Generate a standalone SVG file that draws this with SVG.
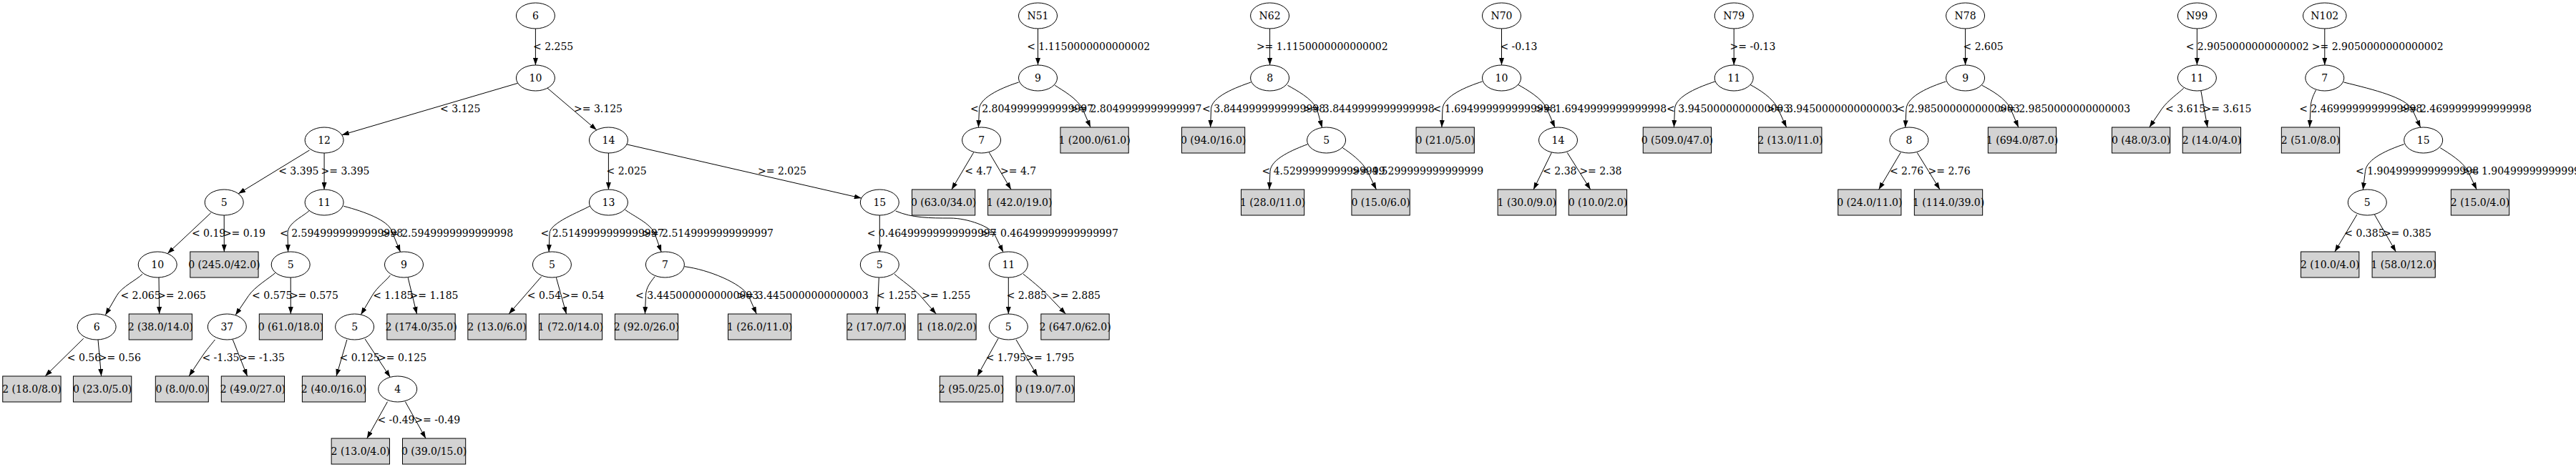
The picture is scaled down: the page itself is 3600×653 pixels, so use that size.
<svg xmlns="http://www.w3.org/2000/svg" width="3600" height="653" viewBox="0 0 3600 653">
<defs>
<style>
.e{fill:#fff;stroke:#000;stroke-width:1}
.b{fill:#d3d3d3;stroke:#000;stroke-width:1}
text{font-family:"DejaVu Serif","Liberation Serif",serif;font-size:14px;fill:#000}
.nt{text-anchor:middle}
.c{fill:none;stroke:#000;stroke-width:1;marker-end:url(#ah)}
</style>
<marker id="ah" viewBox="0 0 10 7" refX="10" refY="3.5" markerWidth="10" markerHeight="7" markerUnits="userSpaceOnUse" orient="auto"><path d="M0,0L10,3.5L0,7z" fill="#000"/></marker>
</defs>
<rect x="0" y="0" width="3600" height="653" fill="#fff"/>
<g id="connectors">
<path class="c" d="M748.4,40L748.4,91"/>
<path class="c" d="M723.7,116.3L477.8,188.7"/>
<path class="c" d="M765,123.2L833.8,181.8"/>
<path class="c" d="M432.5,210L333.1,270.8"/>
<path class="c" d="M453.1,214L453.1,265"/>
<path class="c" d="M850.4,214L850.4,265"/>
<path class="c" d="M875.9,201.9L1203.8,277.1"/>
<path class="c" d="M294.7,297.7L234.2,354.5"/>
<path class="c" d="M313.2,301L313.3,352"/>
<path class="c" d="M432.4,294.3C424,302.7 401.7,311.5 402,326.5L402.6,352.2"/>
<path class="c" d="M480.3,288.3C510,296 541.3,308.1 547,322L559.5,352.3"/>
<path class="c" d="M823.9,288.3C811.2,295.8 768,311.5 768,326.5L767.1,352.2"/>
<path class="c" d="M873.6,293.3C885.6,302.3 909.5,312.7 915,326.7L924.2,352.3"/>
<path class="c" d="M1229.3,301L1229.3,352"/>
<path class="c" d="M1251.7,295C1275,305 1300,305 1328,305C1352,305 1384.5,317 1390,328L1402,352.5"/>
<path class="c" d="M199,383.3C190.6,391.7 170.5,400.6 163,413.5L147.3,440.5"/>
<path class="c" d="M222,388L222.7,439"/>
<path class="c" d="M384.6,381.7C377.1,388.3 355.8,401.1 347.4,413.5L329.1,440.6"/>
<path class="c" d="M406.2,388L406.3,439"/>
<path class="c" d="M545.3,385C539.3,393 527.6,400.6 520,413.5L504.4,440"/>
<path class="c" d="M570.2,388.3L582.5,439"/>
<path class="c" d="M116.7,473.3L63.1,526"/>
<path class="c" d="M137,475L141.6,526"/>
<path class="c" d="M300.4,475C295.6,481.4 289.3,488 281,500.5L264.1,526"/>
<path class="c" d="M325.3,475L345.6,526"/>
<path class="c" d="M484.9,475L470,526"/>
<path class="c" d="M510.1,474L545.3,527.4"/>
<path class="c" d="M541.5,561.7L512.8,613"/>
<path class="c" d="M566.4,561.7L595,613"/>
<path class="c" d="M756.7,386.7L711.1,439"/>
<path class="c" d="M777.4,388.3L791.5,439"/>
<path class="c" d="M915.1,386.7C910.3,393.1 902.5,401.5 902.5,413.5L901.4,439"/>
<path class="c" d="M956.6,372.7C990,377 1036,396 1046,413.5L1057.3,439"/>
<path class="c" d="M1228.3,388.3L1226,439"/>
<path class="c" d="M1250,383.3C1257.5,389.9 1278.1,404.5 1286,413.5L1308.3,439"/>
<path class="c" d="M1409.3,388L1409.3,439"/>
<path class="c" d="M1430,383.3C1438,389.3 1456.7,404.9 1465,413.5L1489.3,439"/>
<path class="c" d="M1395,473.3L1365.7,526"/>
<path class="c" d="M1420,475L1450,526"/>
<path class="c" d="M1450.5,40L1450.5,91"/>
<path class="c" d="M1423.7,115C1405,121 1369,135 1368.5,152.5L1367.4,178.2"/>
<path class="c" d="M1474.2,119.3C1485,126.5 1505,137 1513,152.5L1524,178"/>
<path class="c" d="M1360.6,213.3L1329.9,265"/>
<path class="c" d="M1382.4,213.3L1413,265"/>
<path class="c" d="M1774.6,40L1774.6,91"/>
<path class="c" d="M1748.2,115C1728,122 1693,135 1692.5,152.5L1691.6,178"/>
<path class="c" d="M1799.5,119.3C1811,126 1833,137 1840.5,152.5L1847.7,178.4"/>
<path class="c" d="M1827.4,201.7C1808,209 1776,222 1775,239.5L1773.9,265"/>
<path class="c" d="M1876.4,206.7C1886,213 1904,226 1911,239.5L1923.4,265"/>
<path class="c" d="M2098.5,40L2098.5,91"/>
<path class="c" d="M2071.5,114C2050,121 2017,134 2016,152.5L2014.9,178"/>
<path class="c" d="M2121.3,118.3C2133,125 2155,137 2162,152.5L2173,178.3"/>
<path class="c" d="M2168.4,213.3L2143.1,265"/>
<path class="c" d="M2190.2,213.3L2222.7,265"/>
<path class="c" d="M2423.2,40L2423.2,91"/>
<path class="c" d="M2396.8,114C2376,121 2341,134 2340.5,152.5L2339.4,178"/>
<path class="c" d="M2445.7,118.3C2458,125 2478,137 2485,152.5L2496.6,178"/>
<path class="c" d="M2746.6,40L2746.6,91"/>
<path class="c" d="M2719.4,114C2698,121 2665,134 2664,152.5L2662.7,178.3"/>
<path class="c" d="M2769.9,119.3C2782,126 2803,137 2810,152.5L2820.8,178"/>
<path class="c" d="M2656.2,213.3L2625.6,265"/>
<path class="c" d="M2679.2,213.3L2711,265"/>
<path class="c" d="M3070.4,40L3070.4,91"/>
<path class="c" d="M3051.7,123.3C3045,130 3030,140 3021,152.5L3003.8,178"/>
<path class="c" d="M3075.8,126.7L3085,178"/>
<path class="c" d="M3248.8,40L3248.8,91"/>
<path class="c" d="M3236.5,126C3232,135 3229,142 3229,152.5L3227.7,178"/>
<path class="c" d="M3275.5,115C3320,126 3360,136 3371,152.5L3382.7,178.2"/>
<path class="c" d="M3359.7,201.7C3338,209 3307,222 3305.5,239.5L3302.3,265.4"/>
<path class="c" d="M3410.3,206.7C3422,214 3442,226 3449,239.5L3461.2,265"/>
<path class="c" d="M3293.9,300L3262.9,352"/>
<path class="c" d="M3318.4,300L3348.3,352"/>
<text x="745" y="69.5">&lt; 2.255</text>
<text x="615.1" y="156.5">&lt; 3.125</text>
<text x="802" y="156.5">&gt;= 3.125</text>
<text x="389.2" y="243.5">&lt; 3.395</text>
<text x="448.5" y="243.5">&gt;= 3.395</text>
<text x="847.5" y="243.5">&lt; 2.025</text>
<text x="1059" y="243.5">&gt;= 2.025</text>
<text x="267.9" y="330.5">&lt; 0.19</text>
<text x="311.9" y="330.5">&gt;= 0.19</text>
<text x="391" y="330.5">&lt; 2.5949999999999998</text>
<text x="533.3" y="330.5">&gt;= 2.5949999999999998</text>
<text x="755.5" y="330.5">&lt; 2.5149999999999997</text>
<text x="897.2" y="330.5">&gt;= 2.5149999999999997</text>
<text x="1211.7" y="330.5">&lt; 0.46499999999999997</text>
<text x="1370.1" y="330.5">&gt;= 0.46499999999999997</text>
<text x="168.4" y="417.5">&lt; 2.065</text>
<text x="220" y="417.5">&gt;= 2.065</text>
<text x="352.1" y="417.5">&lt; 0.575</text>
<text x="404.9" y="417.5">&gt;= 0.575</text>
<text x="521.2" y="417.5">&lt; 1.185</text>
<text x="572.5" y="417.5">&gt;= 1.185</text>
<text x="736.8" y="417.5">&lt; 0.54</text>
<text x="785.3" y="417.5">&gt;= 0.54</text>
<text x="888.1" y="417.5">&lt; 3.4450000000000003</text>
<text x="1029.9" y="417.5">&gt;= 3.4450000000000003</text>
<text x="1225" y="417.5">&lt; 1.255</text>
<text x="1288.3" y="417.5">&gt;= 1.255</text>
<text x="1406.7" y="417.5">&lt; 2.885</text>
<text x="1470" y="417.5">&gt;= 2.885</text>
<text x="93.8" y="504.5">&lt; 0.56</text>
<text x="137.8" y="504.5">&gt;= 0.56</text>
<text x="282.4" y="504.5">&lt; -1.35</text>
<text x="334.1" y="504.5">&gt;= -1.35</text>
<text x="474.5" y="504.5">&lt; 0.125</text>
<text x="528.1" y="504.5">&gt;= 0.125</text>
<text x="1377.7" y="504.5">&lt; 1.795</text>
<text x="1433.3" y="504.5">&gt;= 1.795</text>
<text x="527.4" y="591.5">&lt; -0.49</text>
<text x="579.3" y="591.5">&gt;= -0.49</text>
<text x="1435.2" y="69.5">&lt; 1.1150000000000002</text>
<text x="1356" y="156.5">&lt; 2.8049999999999997</text>
<text x="1495.6" y="156.5">&gt;= 2.8049999999999997</text>
<text x="1348.3" y="243.5">&lt; 4.7</text>
<text x="1398" y="243.5">&gt;= 4.7</text>
<text x="1755.9" y="69.5">&gt;= 1.1150000000000002</text>
<text x="1680.1" y="156.5">&lt; 3.8449999999999998</text>
<text x="1820.9" y="156.5">&gt;= 3.8449999999999998</text>
<text x="1763.5" y="243.5">&lt; 4.5299999999999999</text>
<text x="1889.3" y="243.5">&gt;= 4.5299999999999999</text>
<text x="2096.4" y="69.5">&lt; -0.13</text>
<text x="2002.6" y="156.5">&lt; 1.6949999999999998</text>
<text x="2145.4" y="156.5">&gt;= 1.6949999999999998</text>
<text x="2156.1" y="243.5">&lt; 2.38</text>
<text x="2207.4" y="243.5">&gt;= 2.38</text>
<text x="2417.5" y="69.5">&gt;= -0.13</text>
<text x="2329.1" y="156.5">&lt; 3.9450000000000003</text>
<text x="2469.1" y="156.5">&gt;= 3.9450000000000003</text>
<text x="2743.5" y="69.5">&lt; 2.605</text>
<text x="2650.5" y="156.5">&lt; 2.9850000000000003</text>
<text x="2793.3" y="156.5">&gt;= 2.9850000000000003</text>
<text x="2640.9" y="243.5">&lt; 2.76</text>
<text x="2694.5" y="243.5">&gt;= 2.76</text>
<text x="3054.7" y="69.5">&lt; 2.9050000000000002</text>
<text x="3026" y="156.5">&lt; 3.615</text>
<text x="3078.5" y="156.5">&gt;= 3.615</text>
<text x="3230.8" y="69.5">&gt;= 2.9050000000000002</text>
<text x="3213.2" y="156.5">&lt; 2.4699999999999998</text>
<text x="3354" y="156.5">&gt;= 2.4699999999999998</text>
<text x="3292" y="243.5">&lt; 1.9049999999999998</text>
<text x="3440" y="243.5">&gt;= 1.9049999999999998</text>
<text x="3276.3" y="330.5">&lt; 0.385</text>
<text x="3329.9" y="330.5">&gt;= 0.385</text>
</g>
<g id="a6"><ellipse class="e" cx="748.4" cy="22" rx="27" ry="18"/><text class="nt" x="748.4" y="26.5">6</text></g>
<g id="a10"><ellipse class="e" cx="748.4" cy="109" rx="27" ry="18"/><text class="nt" x="748.4" y="113.5">10</text></g>
<g id="a12"><ellipse class="e" cx="453.1" cy="196" rx="27" ry="18"/><text class="nt" x="453.1" y="200.5">12</text></g>
<g id="a14"><ellipse class="e" cx="850.4" cy="196" rx="27" ry="18"/><text class="nt" x="850.4" y="200.5">14</text></g>
<g id="a5a"><ellipse class="e" cx="313.2" cy="283" rx="27" ry="18"/><text class="nt" x="313.2" y="287.5">5</text></g>
<g id="a11a"><ellipse class="e" cx="453.1" cy="283" rx="27" ry="18"/><text class="nt" x="453.1" y="287.5">11</text></g>
<g id="a13"><ellipse class="e" cx="850.4" cy="283" rx="27" ry="18"/><text class="nt" x="850.4" y="287.5">13</text></g>
<g id="a15"><ellipse class="e" cx="1229.3" cy="283" rx="27" ry="18"/><text class="nt" x="1229.3" y="287.5">15</text></g>
<g id="a10b"><ellipse class="e" cx="220.2" cy="370" rx="27" ry="18"/><text class="nt" x="220.2" y="374.5">10</text></g>
<g id="a5b"><ellipse class="e" cx="406.2" cy="370" rx="27" ry="18"/><text class="nt" x="406.2" y="374.5">5</text></g>
<g id="a9a"><ellipse class="e" cx="564.5" cy="370" rx="27" ry="18"/><text class="nt" x="564.5" y="374.5">9</text></g>
<g id="a5c"><ellipse class="e" cx="771.4" cy="370" rx="27" ry="18"/><text class="nt" x="771.4" y="374.5">5</text></g>
<g id="a7a"><ellipse class="e" cx="929.4" cy="370" rx="27" ry="18"/><text class="nt" x="929.4" y="374.5">7</text></g>
<g id="a5d"><ellipse class="e" cx="1229.3" cy="370" rx="27" ry="18"/><text class="nt" x="1229.3" y="374.5">5</text></g>
<g id="a11b"><ellipse class="e" cx="1409.3" cy="370" rx="27" ry="18"/><text class="nt" x="1409.3" y="374.5">11</text></g>
<g id="a6b"><ellipse class="e" cx="135.1" cy="457" rx="27" ry="18"/><text class="nt" x="135.1" y="461.5">6</text></g>
<g id="a37"><ellipse class="e" cx="317.3" cy="457" rx="27" ry="18"/><text class="nt" x="317.3" y="461.5">37</text></g>
<g id="a5e"><ellipse class="e" cx="495.6" cy="457" rx="27" ry="18"/><text class="nt" x="495.6" y="461.5">5</text></g>
<g id="a5f"><ellipse class="e" cx="1409.3" cy="457" rx="27" ry="18"/><text class="nt" x="1409.3" y="461.5">5</text></g>
<g id="a4"><ellipse class="e" cx="555.7" cy="544" rx="27" ry="18"/><text class="nt" x="555.7" y="548.5">4</text></g>
<g id="L245"><rect class="b" x="265.75" y="352" width="95.3" height="36"/><text class="nt" x="313.4" y="374.5">0 (245.0/42.0)</text></g>
<g id="L38"><rect class="b" x="180.2" y="439" width="88.2" height="36"/><text class="nt" x="224.3" y="461.5">2 (38.0/14.0)</text></g>
<g id="L61"><rect class="b" x="362.3" y="439" width="88.2" height="36"/><text class="nt" x="406.4" y="461.5">0 (61.0/18.0)</text></g>
<g id="L174"><rect class="b" x="540.85" y="439" width="95.3" height="36"/><text class="nt" x="588.5" y="461.5">2 (174.0/35.0)</text></g>
<g id="L13_6"><rect class="b" x="653.85" y="439" width="81.3" height="36"/><text class="nt" x="694.5" y="461.5">2 (13.0/6.0)</text></g>
<g id="L72"><rect class="b" x="753.4" y="439" width="88.2" height="36"/><text class="nt" x="797.5" y="461.5">1 (72.0/14.0)</text></g>
<g id="L92"><rect class="b" x="859.4" y="439" width="88.2" height="36"/><text class="nt" x="903.5" y="461.5">2 (92.0/26.0)</text></g>
<g id="L26"><rect class="b" x="1017.5" y="439" width="88.2" height="36"/><text class="nt" x="1061.6" y="461.5">1 (26.0/11.0)</text></g>
<g id="L17"><rect class="b" x="1183.85" y="439" width="81.3" height="36"/><text class="nt" x="1224.5" y="461.5">2 (17.0/7.0)</text></g>
<g id="L18_2"><rect class="b" x="1282.85" y="439" width="81.3" height="36"/><text class="nt" x="1323.5" y="461.5">1 (18.0/2.0)</text></g>
<g id="L647"><rect class="b" x="1454.85" y="439" width="95.3" height="36"/><text class="nt" x="1502.5" y="461.5">2 (647.0/62.0)</text></g>
<g id="L18_8"><rect class="b" x="3.75" y="526" width="81.3" height="36"/><text class="nt" x="44.4" y="548.5">2 (18.0/8.0)</text></g>
<g id="L23"><rect class="b" x="102.45" y="526" width="81.3" height="36"/><text class="nt" x="143.1" y="548.5">0 (23.0/5.0)</text></g>
<g id="L8"><rect class="b" x="217.3" y="526" width="74" height="36"/><text class="nt" x="254.3" y="548.5">0 (8.0/0.0)</text></g>
<g id="L49"><rect class="b" x="309.3" y="526" width="88.2" height="36"/><text class="nt" x="353.4" y="548.5">2 (49.0/27.0)</text></g>
<g id="L40"><rect class="b" x="422.4" y="526" width="88.2" height="36"/><text class="nt" x="466.5" y="548.5">2 (40.0/16.0)</text></g>
<g id="L95"><rect class="b" x="1313.4" y="526" width="88.2" height="36"/><text class="nt" x="1357.5" y="548.5">2 (95.0/25.0)</text></g>
<g id="L19"><rect class="b" x="1420.05" y="526" width="81.3" height="36"/><text class="nt" x="1460.7" y="548.5">0 (19.0/7.0)</text></g>
<g id="L13_4"><rect class="b" x="463.15" y="613" width="81.3" height="36"/><text class="nt" x="503.8" y="635.5">2 (13.0/4.0)</text></g>
<g id="L39"><rect class="b" x="562.5" y="613" width="88.2" height="36"/><text class="nt" x="606.6" y="635.5">0 (39.0/15.0)</text></g>
<g id="N51"><ellipse class="e" cx="1450.5" cy="22" rx="27" ry="18"/><text class="nt" x="1450.5" y="26.5">N51</text></g>
<g id="b9"><ellipse class="e" cx="1450.5" cy="109" rx="27" ry="18"/><text class="nt" x="1450.5" y="113.5">9</text></g>
<g id="b7"><ellipse class="e" cx="1371.6" cy="196" rx="27" ry="18"/><text class="nt" x="1371.6" y="200.5">7</text></g>
<g id="L200"><rect class="b" x="1481.95" y="178" width="95.3" height="36"/><text class="nt" x="1529.6" y="200.5">1 (200.0/61.0)</text></g>
<g id="L63"><rect class="b" x="1274.5" y="265" width="88.2" height="36"/><text class="nt" x="1318.6" y="287.5">0 (63.0/34.0)</text></g>
<g id="L42"><rect class="b" x="1380.6" y="265" width="88.2" height="36"/><text class="nt" x="1424.7" y="287.5">1 (42.0/19.0)</text></g>
<g id="N62"><ellipse class="e" cx="1774.6" cy="22" rx="27" ry="18"/><text class="nt" x="1774.6" y="26.5">N62</text></g>
<g id="c8"><ellipse class="e" cx="1774.6" cy="109" rx="27" ry="18"/><text class="nt" x="1774.6" y="113.5">8</text></g>
<g id="c5"><ellipse class="e" cx="1853.6" cy="196" rx="27" ry="18"/><text class="nt" x="1853.6" y="200.5">5</text></g>
<g id="L94"><rect class="b" x="1651.5" y="178" width="88.2" height="36"/><text class="nt" x="1695.6" y="200.5">0 (94.0/16.0)</text></g>
<g id="L28"><rect class="b" x="1734.5" y="265" width="88.2" height="36"/><text class="nt" x="1778.6" y="287.5">1 (28.0/11.0)</text></g>
<g id="L15_6"><rect class="b" x="1888.95" y="265" width="81.3" height="36"/><text class="nt" x="1929.6" y="287.5">0 (15.0/6.0)</text></g>
<g id="N70"><ellipse class="e" cx="2098.5" cy="22" rx="27" ry="18"/><text class="nt" x="2098.5" y="26.5">N70</text></g>
<g id="d10"><ellipse class="e" cx="2098.5" cy="109" rx="27" ry="18"/><text class="nt" x="2098.5" y="113.5">10</text></g>
<g id="d14"><ellipse class="e" cx="2177.5" cy="196" rx="27" ry="18"/><text class="nt" x="2177.5" y="200.5">14</text></g>
<g id="L21"><rect class="b" x="1979.05" y="178" width="81.3" height="36"/><text class="nt" x="2019.7" y="200.5">0 (21.0/5.0)</text></g>
<g id="L30"><rect class="b" x="2093.15" y="265" width="81.3" height="36"/><text class="nt" x="2133.8" y="287.5">1 (30.0/9.0)</text></g>
<g id="L10_2"><rect class="b" x="2192.25" y="265" width="81.3" height="36"/><text class="nt" x="2232.9" y="287.5">0 (10.0/2.0)</text></g>
<g id="N79"><ellipse class="e" cx="2423.2" cy="22" rx="27" ry="18"/><text class="nt" x="2423.2" y="26.5">N79</text></g>
<g id="e11"><ellipse class="e" cx="2423.2" cy="109" rx="27" ry="18"/><text class="nt" x="2423.2" y="113.5">11</text></g>
<g id="L509"><rect class="b" x="2296.25" y="178" width="95.3" height="36"/><text class="nt" x="2343.9" y="200.5">0 (509.0/47.0)</text></g>
<g id="L13_11"><rect class="b" x="2457.7" y="178" width="88.2" height="36"/><text class="nt" x="2501.8" y="200.5">2 (13.0/11.0)</text></g>
<g id="N78"><ellipse class="e" cx="2746.6" cy="22" rx="27" ry="18"/><text class="nt" x="2746.6" y="26.5">N78</text></g>
<g id="f9"><ellipse class="e" cx="2746.6" cy="109" rx="27" ry="18"/><text class="nt" x="2746.6" y="113.5">9</text></g>
<g id="f8"><ellipse class="e" cx="2667.9" cy="196" rx="27" ry="18"/><text class="nt" x="2667.9" y="200.5">8</text></g>
<g id="L694"><rect class="b" x="2778.35" y="178" width="95.3" height="36"/><text class="nt" x="2826" y="200.5">1 (694.0/87.0)</text></g>
<g id="L24"><rect class="b" x="2568.7" y="265" width="88.2" height="36"/><text class="nt" x="2612.8" y="287.5">0 (24.0/11.0)</text></g>
<g id="L114"><rect class="b" x="2675.35" y="265" width="95.3" height="36"/><text class="nt" x="2723" y="287.5">1 (114.0/39.0)</text></g>
<g id="N99"><ellipse class="e" cx="3070.4" cy="22" rx="27" ry="18"/><text class="nt" x="3070.4" y="26.5">N99</text></g>
<g id="g11"><ellipse class="e" cx="3070.4" cy="109" rx="27" ry="18"/><text class="nt" x="3070.4" y="113.5">11</text></g>
<g id="L48"><rect class="b" x="2951.45" y="178" width="81.3" height="36"/><text class="nt" x="2992.1" y="200.5">0 (48.0/3.0)</text></g>
<g id="L14"><rect class="b" x="3050.25" y="178" width="81.3" height="36"/><text class="nt" x="3090.9" y="200.5">2 (14.0/4.0)</text></g>
<g id="N102"><ellipse class="e" cx="3248.8" cy="22" rx="30.3" ry="18"/><text class="nt" x="3248.8" y="26.5">N102</text></g>
<g id="h7"><ellipse class="e" cx="3248.8" cy="109" rx="27" ry="18"/><text class="nt" x="3248.8" y="113.5">7</text></g>
<g id="h15"><ellipse class="e" cx="3386.7" cy="196" rx="27" ry="18"/><text class="nt" x="3386.7" y="200.5">15</text></g>
<g id="h5"><ellipse class="e" cx="3308.3" cy="283" rx="27" ry="18"/><text class="nt" x="3308.3" y="287.5">5</text></g>
<g id="L51"><rect class="b" x="3188.35" y="178" width="81.3" height="36"/><text class="nt" x="3229" y="200.5">2 (51.0/8.0)</text></g>
<g id="L15_4"><rect class="b" x="3425.35" y="265" width="81.3" height="36"/><text class="nt" x="3466" y="287.5">2 (15.0/4.0)</text></g>
<g id="L10_4"><rect class="b" x="3215.55" y="352" width="81.3" height="36"/><text class="nt" x="3256.2" y="374.5">2 (10.0/4.0)</text></g>
<g id="L58"><rect class="b" x="3315.1" y="352" width="88.2" height="36"/><text class="nt" x="3359.2" y="374.5">1 (58.0/12.0)</text></g>
</svg>
